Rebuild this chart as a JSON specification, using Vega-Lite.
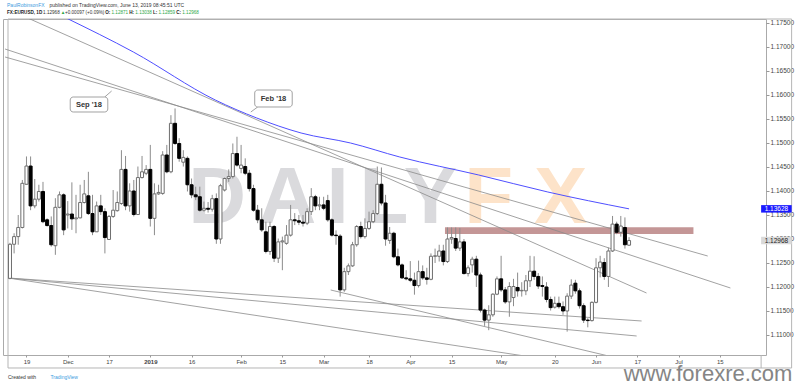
{
"$schema": "https://vega.github.io/schema/vega-lite/v6.json",
"autosize": {"type": "none"},
"padding": {"left": 3, "top": 19, "right": 34, "bottom": 30},
"width": 763,
"height": 336,
"background": "white",
"config": {"view": {"stroke": "#aaaaaa", "strokeWidth": 1}, "font": "Liberation Sans"},
"resolve": {"axis": {"x": "independent", "y": "independent"}},
"datasets": {
"candles": [
{"k":0,"o":1.1218,"h":1.1292,"l":1.1216,"c":1.1289},
{"k":1,"o":1.1289,"h":1.1312,"l":1.1270,"c":1.1305},
{"k":2,"o":1.1305,"h":1.1350,"l":1.1288,"c":1.1324},
{"k":3,"o":1.1324,"h":1.1423,"l":1.1322,"c":1.1416},
{"k":4,"o":1.1414,"h":1.1472,"l":1.1413,"c":1.1452},
{"k":5,"o":1.1452,"h":1.1472,"l":1.1360,"c":1.1369},
{"k":6,"o":1.1369,"h":1.1425,"l":1.1364,"c":1.1383},
{"k":7,"o":1.1383,"h":1.1413,"l":1.1378,"c":1.1399},
{"k":8,"o":1.1399,"h":1.1419,"l":1.1333,"c":1.1336},
{"k":9,"o":1.1340,"h":1.1343,"l":1.1326,"c":1.1328},
{"k":10,"o":1.1328,"h":1.1347,"l":1.1284,"c":1.1288},
{"k":11,"o":1.1286,"h":1.1385,"l":1.1267,"c":1.1366},
{"k":12,"o":1.1366,"h":1.1399,"l":1.1364,"c":1.1392},
{"k":13,"o":1.1392,"h":1.1395,"l":1.1308,"c":1.1319},
{"k":14,"o":1.1350,"h":1.1379,"l":1.1322,"c":1.1352},
{"k":15,"o":1.1352,"h":1.1418,"l":1.1319,"c":1.1342},
{"k":16,"o":1.1342,"h":1.1392,"l":1.1312,"c":1.1344},
{"k":17,"o":1.1344,"h":1.1413,"l":1.1343,"c":1.1376},
{"k":18,"o":1.1376,"h":1.1423,"l":1.1374,"c":1.1394},
{"k":19,"o":1.1390,"h":1.1440,"l":1.1350,"c":1.1353},
{"k":20,"o":1.1353,"h":1.1392,"l":1.1308,"c":1.1315},
{"k":21,"o":1.1315,"h":1.1378,"l":1.1315,"c":1.1369},
{"k":22,"o":1.1369,"h":1.1392,"l":1.1350,"c":1.1357},
{"k":23,"o":1.1357,"h":1.1364,"l":1.1270,"c":1.1303},
{"k":24,"o":1.1299,"h":1.1350,"l":1.1298,"c":1.1347},
{"k":25,"o":1.1347,"h":1.1402,"l":1.1344,"c":1.1360},
{"k":26,"o":1.1359,"h":1.1399,"l":1.1357,"c":1.1376},
{"k":27,"o":1.1374,"h":1.1485,"l":1.1371,"c":1.1445},
{"k":28,"o":1.1445,"h":1.1473,"l":1.1360,"c":1.1369},
{"k":29,"o":1.1369,"h":1.1416,"l":1.1357,"c":1.1400},
{"k":30,"o":1.1400,"h":1.1423,"l":1.1347,"c":1.1351},
{"k":31,"o":1.1351,"h":1.1451,"l":1.1350,"c":1.1428},
{"k":32,"o":1.1428,"h":1.1473,"l":1.1426,"c":1.1440},
{"k":33,"o":1.1437,"h":1.1454,"l":1.1433,"c":1.1445},
{"k":34,"o":1.1445,"h":1.1496,"l":1.1326,"c":1.1343},
{"k":35,"o":1.1343,"h":1.1416,"l":1.1308,"c":1.1394},
{"k":36,"o":1.1394,"h":1.1413,"l":1.1392,"c":1.1397},
{"k":37,"o":1.1395,"h":1.1483,"l":1.1392,"c":1.1475},
{"k":38,"o":1.1475,"h":1.1496,"l":1.1437,"c":1.1440},
{"k":39,"o":1.1440,"h":1.1558,"l":1.1437,"c":1.1541},
{"k":40,"o":1.1541,"h":1.1572,"l":1.1496,"c":1.1499},
{"k":41,"o":1.1499,"h":1.1510,"l":1.1461,"c":1.1468},
{"k":42,"o":1.1460,"h":1.1485,"l":1.1451,"c":1.1470},
{"k":43,"o":1.1468,"h":1.1472,"l":1.1399,"c":1.1413},
{"k":44,"o":1.1413,"h":1.1426,"l":1.1385,"c":1.1392},
{"k":45,"o":1.1392,"h":1.1409,"l":1.1381,"c":1.1388},
{"k":46,"o":1.1388,"h":1.1409,"l":1.1357,"c":1.1360},
{"k":47,"o":1.1360,"h":1.1378,"l":1.1357,"c":1.1364},
{"k":48,"o":1.1364,"h":1.1377,"l":1.1355,"c":1.1362},
{"k":49,"o":1.1362,"h":1.1392,"l":1.1357,"c":1.1384},
{"k":50,"o":1.1384,"h":1.1395,"l":1.1290,"c":1.1300},
{"k":51,"o":1.1300,"h":1.1415,"l":1.1290,"c":1.1411},
{"k":52,"o":1.1402,"h":1.1428,"l":1.1399,"c":1.1426},
{"k":53,"o":1.1426,"h":1.1445,"l":1.1419,"c":1.1430},
{"k":54,"o":1.1430,"h":1.1499,"l":1.1426,"c":1.1478},
{"k":55,"o":1.1478,"h":1.1513,"l":1.1451,"c":1.1454},
{"k":56,"o":1.1447,"h":1.1496,"l":1.1437,"c":1.1454},
{"k":57,"o":1.1451,"h":1.1468,"l":1.1433,"c":1.1437},
{"k":58,"o":1.1437,"h":1.1444,"l":1.1399,"c":1.1405},
{"k":59,"o":1.1405,"h":1.1413,"l":1.1357,"c":1.1360},
{"k":60,"o":1.1360,"h":1.1371,"l":1.1333,"c":1.1340},
{"k":61,"o":1.1340,"h":1.1364,"l":1.1315,"c":1.1319},
{"k":62,"o":1.1315,"h":1.1336,"l":1.1270,"c":1.1274},
{"k":63,"o":1.1274,"h":1.1336,"l":1.1267,"c":1.1326},
{"k":64,"o":1.1326,"h":1.1329,"l":1.1252,"c":1.1260},
{"k":65,"o":1.1260,"h":1.1301,"l":1.1250,"c":1.1294},
{"k":66,"o":1.1294,"h":1.1305,"l":1.1235,"c":1.1296},
{"k":67,"o":1.1291,"h":1.1329,"l":1.1288,"c":1.1308},
{"k":68,"o":1.1308,"h":1.1371,"l":1.1305,"c":1.1340},
{"k":69,"o":1.1340,"h":1.1354,"l":1.1329,"c":1.1338},
{"k":70,"o":1.1338,"h":1.1350,"l":1.1329,"c":1.1335},
{"k":71,"o":1.1335,"h":1.1350,"l":1.1326,"c":1.1333},
{"k":72,"o":1.1333,"h":1.1364,"l":1.1329,"c":1.1357},
{"k":73,"o":1.1357,"h":1.1406,"l":1.1350,"c":1.1388},
{"k":74,"o":1.1388,"h":1.1392,"l":1.1360,"c":1.1369},
{"k":75,"o":1.1369,"h":1.1388,"l":1.1360,"c":1.1371},
{"k":76,"o":1.1371,"h":1.1388,"l":1.1360,"c":1.1364},
{"k":77,"o":1.1380,"h":1.1392,"l":1.1336,"c":1.1340},
{"k":78,"o":1.1340,"h":1.1343,"l":1.1305,"c":1.1308},
{"k":79,"o":1.1308,"h":1.1318,"l":1.1288,"c":1.1307},
{"k":80,"o":1.1306,"h":1.1310,"l":1.1180,"c":1.1194},
{"k":81,"o":1.1194,"h":1.1240,"l":1.1190,"c":1.1232},
{"k":82,"o":1.1232,"h":1.1249,"l":1.1225,"c":1.1244},
{"k":83,"o":1.1244,"h":1.1294,"l":1.1242,"c":1.1288},
{"k":84,"o":1.1288,"h":1.1329,"l":1.1284,"c":1.1326},
{"k":85,"o":1.1326,"h":1.1336,"l":1.1301,"c":1.1305},
{"k":86,"o":1.1305,"h":1.1343,"l":1.1301,"c":1.1322},
{"k":87,"o":1.1322,"h":1.1357,"l":1.1319,"c":1.1336},
{"k":88,"o":1.1336,"h":1.1360,"l":1.1333,"c":1.1353},
{"k":89,"o":1.1353,"h":1.1451,"l":1.1350,"c":1.1414},
{"k":90,"o":1.1414,"h":1.1449,"l":1.1370,"c":1.1375},
{"k":91,"o":1.1375,"h":1.1392,"l":1.1286,"c":1.1300},
{"k":92,"o":1.1297,"h":1.1325,"l":1.1290,"c":1.1312},
{"k":93,"o":1.1312,"h":1.1315,"l":1.1260,"c":1.1263},
{"k":94,"o":1.1263,"h":1.1280,"l":1.1243,"c":1.1246},
{"k":95,"o":1.1246,"h":1.1249,"l":1.1217,"c":1.1219},
{"k":96,"o":1.1219,"h":1.1235,"l":1.1214,"c":1.1217},
{"k":97,"o":1.1217,"h":1.1254,"l":1.1210,"c":1.1214},
{"k":98,"o":1.1214,"h":1.1230,"l":1.1184,"c":1.1203},
{"k":99,"o":1.1203,"h":1.1255,"l":1.1199,"c":1.1232},
{"k":100,"o":1.1232,"h":1.1245,"l":1.1215,"c":1.1219},
{"k":101,"o":1.1219,"h":1.1240,"l":1.1205,"c":1.1216},
{"k":102,"o":1.1216,"h":1.1270,"l":1.1214,"c":1.1264},
{"k":103,"o":1.1264,"h":1.1280,"l":1.1250,"c":1.1265},
{"k":104,"o":1.1264,"h":1.1288,"l":1.1253,"c":1.1275},
{"k":105,"o":1.1275,"h":1.1288,"l":1.1245,"c":1.1253},
{"k":106,"o":1.1253,"h":1.1324,"l":1.1250,"c":1.1300},
{"k":107,"o":1.1300,"h":1.1324,"l":1.1290,"c":1.1303},
{"k":108,"o":1.1301,"h":1.1324,"l":1.1275,"c":1.1281},
{"k":109,"o":1.1281,"h":1.1323,"l":1.1275,"c":1.1294},
{"k":110,"o":1.1294,"h":1.1300,"l":1.1226,"c":1.1228},
{"k":111,"o":1.1228,"h":1.1245,"l":1.1222,"c":1.1240},
{"k":112,"o":1.1246,"h":1.1263,"l":1.1230,"c":1.1258},
{"k":113,"o":1.1258,"h":1.1265,"l":1.1200,"c":1.1225},
{"k":114,"o":1.1225,"h":1.1230,"l":1.1147,"c":1.1152},
{"k":115,"o":1.1152,"h":1.1155,"l":1.1119,"c":1.1131},
{"k":116,"o":1.1131,"h":1.1162,"l":1.1110,"c":1.1142},
{"k":117,"o":1.1142,"h":1.1187,"l":1.1138,"c":1.1185},
{"k":118,"o":1.1185,"h":1.1222,"l":1.1183,"c":1.1217},
{"k":119,"o":1.1217,"h":1.1265,"l":1.1190,"c":1.1194},
{"k":120,"o":1.1194,"h":1.1200,"l":1.1165,"c":1.1169},
{"k":121,"o":1.1169,"h":1.1210,"l":1.1138,"c":1.1201},
{"k":122,"o":1.1178,"h":1.1217,"l":1.1160,"c":1.1201},
{"k":123,"o":1.1199,"h":1.1230,"l":1.1180,"c":1.1192},
{"k":124,"o":1.1192,"h":1.1210,"l":1.1180,"c":1.1193},
{"k":125,"o":1.1192,"h":1.1225,"l":1.1183,"c":1.1213},
{"k":126,"o":1.1213,"h":1.1265,"l":1.1200,"c":1.1233},
{"k":127,"o":1.1233,"h":1.1264,"l":1.1215,"c":1.1222},
{"k":128,"o":1.1222,"h":1.1229,"l":1.1196,"c":1.1202},
{"k":129,"o":1.1203,"h":1.1222,"l":1.1180,"c":1.1201},
{"k":130,"o":1.1200,"h":1.1210,"l":1.1168,"c":1.1174},
{"k":131,"o":1.1174,"h":1.1180,"l":1.1151,"c":1.1157},
{"k":132,"o":1.1158,"h":1.1180,"l":1.1155,"c":1.1166},
{"k":133,"o":1.1166,"h":1.1180,"l":1.1155,"c":1.1159},
{"k":134,"o":1.1159,"h":1.1170,"l":1.1142,"c":1.1150},
{"k":135,"o":1.1150,"h":1.1187,"l":1.1107,"c":1.1181},
{"k":136,"o":1.1181,"h":1.1216,"l":1.1175,"c":1.1204},
{"k":137,"o":1.1208,"h":1.1215,"l":1.1186,"c":1.1192},
{"k":138,"o":1.1192,"h":1.1197,"l":1.1155,"c":1.1161},
{"k":139,"o":1.1161,"h":1.1166,"l":1.1125,"c":1.1131},
{"k":140,"o":1.1131,"h":1.1135,"l":1.1116,"c":1.1130},
{"k":141,"o":1.1130,"h":1.1170,"l":1.1128,"c":1.1168},
{"k":142,"o":1.1168,"h":1.1260,"l":1.1166,"c":1.1240},
{"k":143,"o":1.1240,"h":1.1265,"l":1.1220,"c":1.1252},
{"k":144,"o":1.1251,"h":1.1260,"l":1.1215,"c":1.1222},
{"k":145,"o":1.1222,"h":1.1282,"l":1.1200,"c":1.1275},
{"k":146,"o":1.1275,"h":1.1348,"l":1.1273,"c":1.1331},
{"k":147,"o":1.1331,"h":1.1336,"l":1.1310,"c":1.1314},
{"k":148,"o":1.1314,"h":1.1348,"l":1.1305,"c":1.1327},
{"k":149,"o":1.1324,"h":1.1345,"l":1.1280,"c":1.1288},
{"k":150,"o":1.12871,"h":1.13038,"l":1.12859,"c":1.12968}
],
"ma": [
{"k":13.63,"p":1.17604},{"k":29.89,"p":1.16896},{"k":49.74,"p":1.15896},{"k":59.78,"p":1.15521},
{"k":70.54,"p":1.15208},{"k":82.5,"p":1.15},{"k":94.45,"p":1.14708},{"k":113.58,"p":1.14333},
{"k":130.32,"p":1.13979},{"k":150,"p":1.13628}
],
"lines": [
{"k":-1.196,"p":1.167917,"k2":169.06,"p2":1.126458},
{"k":4.304,"p":1.176042,"k2":154.23,"p2":1.11875},
{"k":-1.196,"p":1.169583,"k2":174.56,"p2":1.119792},
{"k":-0.478,"p":1.121875,"k2":153.04,"p2":1.112917},
{"k":-0.478,"p":1.121875,"k2":151.84,"p2":1.109792},
{"k":-0.478,"p":1.121875,"k2":132.71,"p2":1.104583},
{"k":77.71,"p":1.119375,"k2":147.06,"p2":1.105208}
],
"tails": [
{"k":22.96,"p":1.159583,"k2":24.63,"p2":1.160833},
{"k":60.02,"p":1.1575,"k2":58.35,"p2":1.156458}
],
"zone": [{"k":105.4,"k2":165.6,"p":1.13104,"p2":1.13244}],
"wmgrey": [
{"t":"D","k":50.22,"p":1.13333},{"t":"A","k":67.19,"p":1.13333},{"t":"I","k":79.39,"p":1.13333},
{"t":"L","k":90.63,"p":1.13333},{"t":"Y","k":101.87,"p":1.13333}
],
"wmorange": [{"t":"F","k":115.97,"p":1.13333},{"t":"X","k":133.44,"p":1.13333}],
"callouts": [
{"t":"Sep '18","k":14.6,"k2":23.7,"p":1.15958,"p2":1.15646,"tk":19.13,"tp":1.15802},
{"t":"Feb '18","k":59.3,"k2":68.39,"p":1.16104,"p2":1.1575,"tk":63.85,"tp":1.15927}
],
"tagblue": [{"t":"1.13628","k":182,"k2":189.4,"p":1.1355,"p2":1.13706,"tk":185.7,"tp":1.13628}],
"taggrey": [{"t":"1.12968","k":182,"k2":189.4,"p":1.1289,"p2":1.13046,"tk":185.7,"tp":1.12968}],
"hdr1dark": [
{"t":"published on TradingView.com, June 13, 2019 08:45:51 UTC","k":9.565,"p":1.178646},
{"t":"Created with","k":-0.478,"p":1.10125}
],
"hdr2dark": [
{"t":"1.12968","k":8.03,"p":1.177083},
{"t":"+0.00097 (+0.09%)","k":13.34,"p":1.177083}
],
"hdrbold": [
{"t":"FX:EURUSD, 1D","k":-0.717,"p":1.177083},
{"t":"O:","k":23.07,"p":1.177083},
{"t":"H:","k":28.89,"p":1.177083},
{"t":"L:","k":34.65,"p":1.177083},
{"t":"C:","k":40.27,"p":1.177083}
],
"hdrgreen": [
{"t":"▲","k":12.31,"p":1.177083},
{"t":"1.12871","k":24.61,"p":1.177083},
{"t":"1.13038","k":30.37,"p":1.177083},
{"t":"1.12859","k":35.99,"p":1.177083},
{"t":"1.12968","k":41.75,"p":1.177083}
],
"hdrblue": [
{"t":"PaulRobinsonFX","k":-0.717,"p":1.178646},
{"t":"TradingView","k":9.8,"p":1.10125}
],
"site": [{"t":"www.forexre.com","k":148.7,"p":1.100417}],
"frame": [{"k":-0.478,"k2":189.39,"p":1.175833,"p2":1.103125}],
"sep": [{"k":182,"p":1.105833,"p2":1.103125}]
},
"layer": [
{"data":{"name":"frame"},"mark":{"type":"rect","fill":"transparent","stroke":"#b5b5b5","strokeWidth":1},
 "encoding":{
  "x":{"field":"k","type":"quantitative","title":null,"scale":{"domain":[-0.478,181.97],"nice":false,"zero":false},
   "axis":{"orient":"bottom","values":[4,14,24,34,44,56,66,76,87,97,107,119,132,142,152,162,172],
    "labelExpr":"['19','Dec','17','2019','16','Feb','15','Mar','18','Apr','15','May','20','Jun','17','Jul','15'][indexof([4,14,24,34,44,56,66,76,87,97,107,119,132,142,152,162,172], datum.value)]",
    "labelFontWeight":{"condition":{"test":"datum.value == 34","value":"bold"},"value":"normal"},
    "labelFontSize":6,"labelColor":"#444444","labelFont":"Liberation Sans","tickSize":2,"tickColor":"#999999","domain":false,"grid":false,"labelPadding":1,"labelFlush":false,"labelOverlap":false}},
  "x2":{"field":"k2"},
  "y":{"field":"p","type":"quantitative","title":null,"scale":{"domain":[1.105833,1.175833],"nice":false,"zero":false},
   "axis":{"orient":"right","values":[1.11,1.115,1.12,1.125,1.13,1.135,1.14,1.145,1.15,1.155,1.16,1.165,1.17,1.175],"format":".5f",
    "labelFontSize":6.5,"labelColor":"#444444","labelFont":"Liberation Sans","tickSize":3,"tickColor":"#999999","domain":false,"grid":false,"labelPadding":1,"labelOverlap":false}},
  "y2":{"field":"p2"}}},
{"data":{"name":"wmgrey"},"mark":{"type":"text","font":"Liberation Sans","fontWeight":"bold","fontSize":80,"color":"#dadadd","baseline":"alphabetic","align":"center"},
 "encoding":{"x":{"field":"k","type":"quantitative","axis":null},"y":{"field":"p","type":"quantitative","axis":null},"text":{"field":"t"}}},
{"data":{"name":"wmorange"},"mark":{"type":"text","font":"Liberation Sans","fontWeight":"bold","fontSize":80,"color":"#fde3c9","baseline":"alphabetic","align":"center"},
 "encoding":{"x":{"field":"k","type":"quantitative","axis":null},"y":{"field":"p","type":"quantitative","axis":null},"text":{"field":"t"}}},
{"data":{"name":"zone"},"mark":{"type":"rect","color":"#b57c7c","opacity":0.8},
 "encoding":{"x":{"field":"k","type":"quantitative","axis":null},"x2":{"field":"k2"},"y":{"field":"p","type":"quantitative","axis":null},"y2":{"field":"p2"}}},
{"data":{"name":"lines"},"mark":{"type":"rule","color":"#8a8a8a","strokeWidth":0.8,"clip":true},
 "encoding":{"x":{"field":"k","type":"quantitative","axis":null},"x2":{"field":"k2"},"y":{"field":"p","type":"quantitative","axis":null},"y2":{"field":"p2"}}},
{"data":{"name":"ma"},"mark":{"type":"line","color":"#4f4fff","strokeWidth":1,"interpolate":"monotone","clip":true},
 "encoding":{"x":{"field":"k","type":"quantitative","axis":null},"y":{"field":"p","type":"quantitative","axis":null}}},
{"data":{"name":"candles"},"mark":{"type":"rule","color":"#8c8c8c","strokeWidth":1},
 "encoding":{"x":{"field":"k","type":"quantitative","axis":null},"y":{"field":"l","type":"quantitative","axis":null},"y2":{"field":"h"}}},
{"data":{"name":"candles"},"mark":{"type":"bar","width":3,"strokeWidth":1},
 "encoding":{
  "x":{"field":"k","type":"quantitative","axis":null},
  "y":{"field":"o","type":"quantitative","axis":null},
  "y2":{"field":"c"},
  "fill":{"condition":{"test":"datum.c >= datum.o","value":"#ffffff"},"value":"#000000"},
  "stroke":{"condition":{"test":"datum.c >= datum.o","value":"#6e6e6e"},"value":"#000000"}}},
{"data":{"name":"tails"},"mark":{"type":"rule","color":"#8a8a8a","strokeWidth":0.8},
 "encoding":{"x":{"field":"k","type":"quantitative","axis":null},"x2":{"field":"k2"},"y":{"field":"p","type":"quantitative","axis":null},"y2":{"field":"p2"}}},
{"data":{"name":"callouts"},"mark":{"type":"rect","fill":"white","stroke":"#8a8a8a","strokeWidth":0.8,"cornerRadius":3},
 "encoding":{"x":{"field":"k","type":"quantitative","axis":null},"x2":{"field":"k2"},"y":{"field":"p","type":"quantitative","axis":null},"y2":{"field":"p2"}}},
{"data":{"name":"callouts"},"mark":{"type":"text","font":"Liberation Sans","fontWeight":"bold","fontSize":7.5,"color":"#333333","align":"center","baseline":"middle"},
 "encoding":{"x":{"field":"tk","type":"quantitative","axis":null},"y":{"field":"tp","type":"quantitative","axis":null},"text":{"field":"t"}}},
{"data":{"name":"tagblue"},"mark":{"type":"rect","fill":"#1a1aff"},
 "encoding":{"x":{"field":"k","type":"quantitative","axis":null},"x2":{"field":"k2"},"y":{"field":"p","type":"quantitative","axis":null},"y2":{"field":"p2"}}},
{"data":{"name":"tagblue"},"mark":{"type":"text","font":"Liberation Sans","fontSize":6.5,"color":"white","align":"center","baseline":"middle"},
 "encoding":{"x":{"field":"tk","type":"quantitative","axis":null},"y":{"field":"tp","type":"quantitative","axis":null},"text":{"field":"t"}}},
{"data":{"name":"taggrey"},"mark":{"type":"rect","fill":"#d9d9d9"},
 "encoding":{"x":{"field":"k","type":"quantitative","axis":null},"x2":{"field":"k2"},"y":{"field":"p","type":"quantitative","axis":null},"y2":{"field":"p2"}}},
{"data":{"name":"taggrey"},"mark":{"type":"text","font":"Liberation Sans","fontSize":6.5,"color":"#222222","align":"center","baseline":"middle"},
 "encoding":{"x":{"field":"tk","type":"quantitative","axis":null},"y":{"field":"tp","type":"quantitative","axis":null},"text":{"field":"t"}}},
{"data":{"name":"hdr1dark"},"mark":{"type":"text","font":"Liberation Sans","fontSize":5,"color":"#333333","align":"left","baseline":"middle"},
 "encoding":{"x":{"field":"k","type":"quantitative","axis":null},"y":{"field":"p","type":"quantitative","axis":null},"text":{"field":"t"}}},
{"data":{"name":"hdr2dark"},"mark":{"type":"text","font":"Liberation Sans","fontSize":4.6,"color":"#333333","align":"left","baseline":"middle"},
 "encoding":{"x":{"field":"k","type":"quantitative","axis":null},"y":{"field":"p","type":"quantitative","axis":null},"text":{"field":"t"}}},
{"data":{"name":"hdrbold"},"mark":{"type":"text","font":"Liberation Sans","fontWeight":"bold","fontSize":4.6,"color":"#222222","align":"left","baseline":"middle"},
 "encoding":{"x":{"field":"k","type":"quantitative","axis":null},"y":{"field":"p","type":"quantitative","axis":null},"text":{"field":"t"}}},
{"data":{"name":"hdrgreen"},"mark":{"type":"text","font":"Liberation Sans","fontSize":4.6,"color":"#2ea84a","align":"left","baseline":"middle"},
 "encoding":{"x":{"field":"k","type":"quantitative","axis":null},"y":{"field":"p","type":"quantitative","axis":null},"text":{"field":"t"}}},
{"data":{"name":"hdrblue"},"mark":{"type":"text","font":"Liberation Sans","fontSize":5,"color":"#3d9be0","align":"left","baseline":"middle"},
 "encoding":{"x":{"field":"k","type":"quantitative","axis":null},"y":{"field":"p","type":"quantitative","axis":null},"text":{"field":"t"}}},
{"data":{"name":"sep"},"mark":{"type":"rule","color":"#b5b5b5","strokeWidth":1},
 "encoding":{"x":{"field":"k","type":"quantitative","axis":null},"y":{"field":"p","type":"quantitative","axis":null},"y2":{"field":"p2"}}},
{"data":{"name":"site"},"mark":{"type":"text","font":"Liberation Sans","fontSize":22,"color":"#858585","align":"left","baseline":"alphabetic"},
 "encoding":{"x":{"field":"k","type":"quantitative","axis":null},"y":{"field":"p","type":"quantitative","axis":null},"text":{"field":"t"}}}
]
}
